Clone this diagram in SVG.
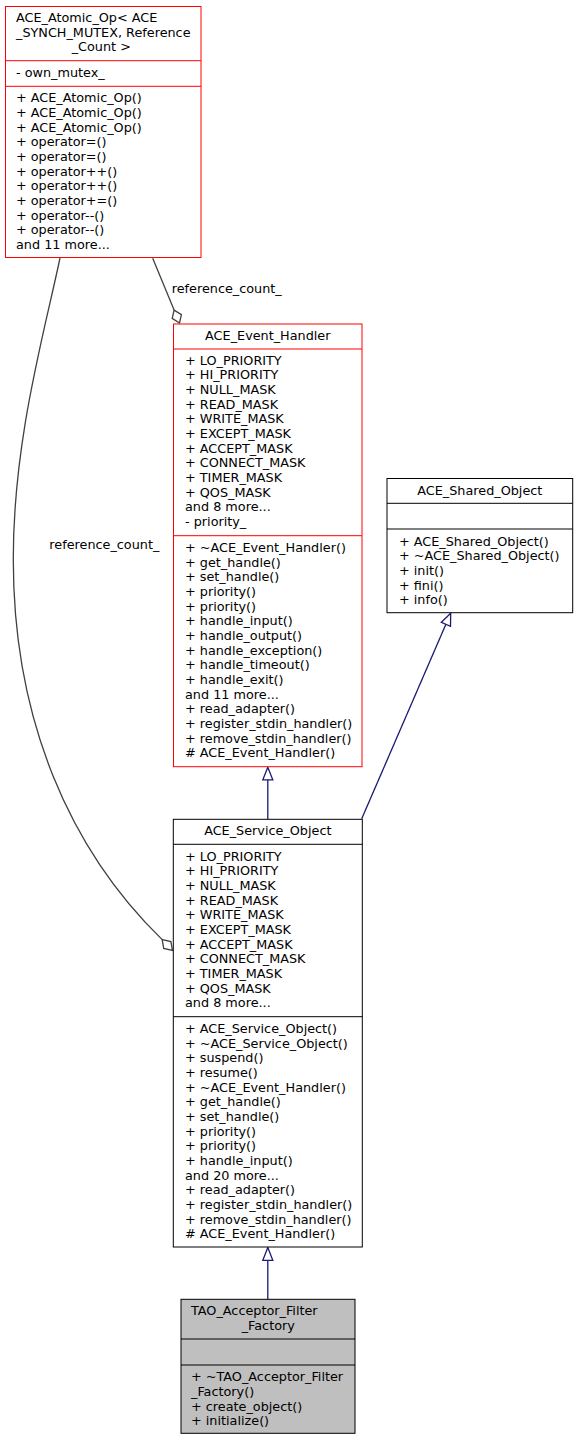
<svg xmlns="http://www.w3.org/2000/svg" width="577" height="1440" viewBox="0 0 577 1440">
<style>
text{font-family:"DejaVu Sans","Liberation Sans",sans-serif;font-size:12.8px;fill:#000}
.c{text-anchor:middle}
.box{fill:#fff;stroke-width:1}
.red{stroke:#ff0000}
.blk{stroke:#000}
.sep{stroke-width:1}
.assoc{fill:none;stroke:#404040;stroke-width:1.3}
.inh{fill:none;stroke:#191970;stroke-width:1.3}
.dia{fill:#fff;stroke:#404040;stroke-width:1.3}
.tri{fill:#fff;stroke:#191970;stroke-width:1.3}
</style>
<rect width="577" height="1440" fill="#fff"/>
<g id="connectors">
<path class="assoc" d="M152.7,258.3 L174.1,310.1"/>
<polygon class="dia" points="179.5,323 181.4,314.6 174.1,310.1 172.2,318.4"/>
<text x="171.7" y="293">reference_count_</text>
<path class="assoc" d="M60,258 C45,330 13,440 13.3,560 C13.3,720 70,850 162.2,939.6"/>
<polygon class="dia" points="172.5,950.5 170.9,941.6 162.2,939.6 163.7,948.5"/>
<text x="49.3" y="549">reference_count_</text>
<path class="inh" d="M267.8,819.3 L267.8,779.8"/>
<polygon class="tri" points="267.8,767.3 262.8,779.8 272.8,779.8"/>
<path class="inh" d="M361.7,818.8 L445.9,624.3"/>
<polygon class="tri" points="450.7,613.3 441.3,622.3 450.5,626.3"/>
<path class="inh" d="M267.8,1299.3 L267.8,1260.3"/>
<polygon class="tri" points="267.8,1247.5 262.8,1260.3 272.8,1260.3"/>
</g>
<g id="ACE_Atomic_Op">
<rect class="box red" x="5.5" y="6.5" width="195.5" height="251"/>
<line class="sep red" x1="5.5" y1="60.7" x2="201" y2="60.7"/>
<line class="sep red" x1="5.5" y1="86.3" x2="201" y2="86.3"/>
<text x="16" y="22">ACE_Atomic_Op&lt; ACE</text>
<text x="16" y="36.7">_SYNCH_MUTEX, Reference</text>
<text x="71.7" y="51.3">_Count &gt;</text>
<text x="16" y="77.3">- own_mutex_</text>
<text x="16" y="102.3">+ ACE_Atomic_Op()</text>
<text x="16" y="117">+ ACE_Atomic_Op()</text>
<text x="16" y="131.6">+ ACE_Atomic_Op()</text>
<text x="16" y="146.3">+ operator=()</text>
<text x="16" y="161">+ operator=()</text>
<text x="16" y="175.6">+ operator++()</text>
<text x="16" y="190.3">+ operator++()</text>
<text x="16" y="205">+ operator+=()</text>
<text x="16" y="219.7">+ operator--()</text>
<text x="16" y="234.3">+ operator--()</text>
<text x="16" y="249">and 11 more...</text>
</g>
<g id="ACE_Event_Handler">
<rect class="box red" x="173.5" y="324" width="188.5" height="442.7"/>
<line class="sep red" x1="173.5" y1="349" x2="362" y2="349"/>
<line class="sep red" x1="173.5" y1="535.7" x2="362" y2="535.7"/>
<text class="c" x="267.8" y="340.3">ACE_Event_Handler</text>
<text x="185" y="364.7">+ LO_PRIORITY</text>
<text x="185" y="379.4">+ HI_PRIORITY</text>
<text x="185" y="394">+ NULL_MASK</text>
<text x="185" y="408.7">+ READ_MASK</text>
<text x="185" y="423.4">+ WRITE_MASK</text>
<text x="185" y="438">+ EXCEPT_MASK</text>
<text x="185" y="452.7">+ ACCEPT_MASK</text>
<text x="185" y="467.4">+ CONNECT_MASK</text>
<text x="185" y="482">+ TIMER_MASK</text>
<text x="185" y="496.7">+ QOS_MASK</text>
<text x="185" y="511.4">and 8 more...</text>
<text x="185" y="526">- priority_</text>
<text x="185" y="552">+ ~ACE_Event_Handler()</text>
<text x="185" y="566.7">+ get_handle()</text>
<text x="185" y="581.3">+ set_handle()</text>
<text x="185" y="596">+ priority()</text>
<text x="185" y="610.7">+ priority()</text>
<text x="185" y="625.3">+ handle_input()</text>
<text x="185" y="640">+ handle_output()</text>
<text x="185" y="654.7">+ handle_exception()</text>
<text x="185" y="669.4">+ handle_timeout()</text>
<text x="185" y="684">+ handle_exit()</text>
<text x="185" y="698.7">and 11 more...</text>
<text x="185" y="713.4">+ read_adapter()</text>
<text x="185" y="728">+ register_stdin_handler()</text>
<text x="185" y="742.7">+ remove_stdin_handler()</text>
<text x="185" y="757.4"># ACE_Event_Handler()</text>
</g>
<g id="ACE_Shared_Object">
<rect class="box blk" x="387" y="478.5" width="185.7" height="134.2"/>
<line class="sep blk" x1="387" y1="503.3" x2="572.7" y2="503.3"/>
<line class="sep blk" x1="387" y1="529" x2="572.7" y2="529"/>
<text class="c" x="479.8" y="494.6">ACE_Shared_Object</text>
<text x="399" y="545.6">+ ACE_Shared_Object()</text>
<text x="399" y="560.3">+ ~ACE_Shared_Object()</text>
<text x="399" y="575">+ init()</text>
<text x="399" y="589.6">+ fini()</text>
<text x="399" y="604.3">+ info()</text>
</g>
<g id="ACE_Service_Object">
<rect class="box blk" x="173.3" y="819.3" width="189" height="427.7"/>
<line class="sep blk" x1="173.3" y1="844.3" x2="362.3" y2="844.3"/>
<line class="sep blk" x1="173.3" y1="1016.7" x2="362.3" y2="1016.7"/>
<text class="c" x="267.8" y="835.3">ACE_Service_Object</text>
<text x="185" y="860.6">+ LO_PRIORITY</text>
<text x="185" y="875.3">+ HI_PRIORITY</text>
<text x="185" y="890">+ NULL_MASK</text>
<text x="185" y="904.6">+ READ_MASK</text>
<text x="185" y="919.3">+ WRITE_MASK</text>
<text x="185" y="934">+ EXCEPT_MASK</text>
<text x="185" y="948.6">+ ACCEPT_MASK</text>
<text x="185" y="963.3">+ CONNECT_MASK</text>
<text x="185" y="978">+ TIMER_MASK</text>
<text x="185" y="992.6">+ QOS_MASK</text>
<text x="185" y="1007.3">and 8 more...</text>
<text x="185" y="1033">+ ACE_Service_Object()</text>
<text x="185" y="1047.7">+ ~ACE_Service_Object()</text>
<text x="185" y="1062.3">+ suspend()</text>
<text x="185" y="1077">+ resume()</text>
<text x="185" y="1091.7">+ ~ACE_Event_Handler()</text>
<text x="185" y="1106.4">+ get_handle()</text>
<text x="185" y="1121">+ set_handle()</text>
<text x="185" y="1135.7">+ priority()</text>
<text x="185" y="1150.4">+ priority()</text>
<text x="185" y="1165">+ handle_input()</text>
<text x="185" y="1179.7">and 20 more...</text>
<text x="185" y="1194.4">+ read_adapter()</text>
<text x="185" y="1209">+ register_stdin_handler()</text>
<text x="185" y="1223.7">+ remove_stdin_handler()</text>
<text x="185" y="1238.4"># ACE_Event_Handler()</text>
</g>
<g id="TAO_Acceptor_Filter_Factory">
<rect x="181" y="1299.3" width="174" height="134" fill="#bfbfbf" stroke="#000" stroke-width="1"/>
<line class="sep blk" x1="181" y1="1339" x2="355" y2="1339"/>
<line class="sep blk" x1="181" y1="1365" x2="355" y2="1365"/>
<text x="191" y="1315.3">TAO_Acceptor_Filter</text>
<text x="241.7" y="1330">_Factory</text>
<text x="191" y="1381.3">+ ~TAO_Acceptor_Filter</text>
<text x="191" y="1396">_Factory()</text>
<text x="191" y="1410.7">+ create_object()</text>
<text x="191" y="1425.3">+ initialize()</text>
</g>
</svg>
